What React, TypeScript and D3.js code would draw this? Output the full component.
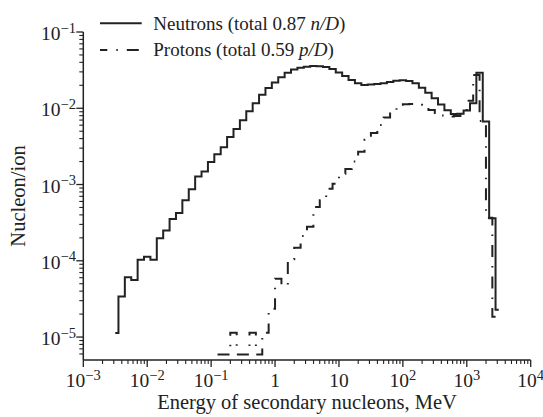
import React from 'react';
import * as d3 from 'd3';

const W = 543;
const H = 417;

// axis decades (exponents of ten)
const xDecades = [-3, -2, -1, 0, 1, 2, 3, 4];
const yDecades = [-5, -4, -3, -2, -1];

// neutron histogram: bin centres at 10^(-2.5 + 0.1 i)
const neutronFirstCentreLog = -2.5;
const binWidthLog = 0.1;
const neutronValues = [
  1.13e-5, 3.4e-5, 6.1e-5, 5.6e-5, 1.03e-4, 1.13e-4, 1.03e-4, 1.98e-4, 2.49e-4, 3.52e-4,
  4.22e-4, 6.24e-4, 8.64e-4, 1.27e-3, 1.48e-3, 1.98e-3, 2.5e-3, 3.07e-3, 4.21e-3, 5.33e-3,
  6.97e-3, 9.14e-3, 1.16e-2, 1.5e-2, 1.85e-2, 2.18e-2, 2.56e-2, 2.92e-2, 3.23e-2, 3.41e-2,
  3.51e-2, 3.59e-2, 3.56e-2, 3.48e-2, 3.28e-2, 2.95e-2, 2.65e-2, 2.35e-2, 2.13e-2, 2.02e-2,
  2.05e-2, 2.08e-2, 2.13e-2, 2.21e-2, 2.3e-2, 2.33e-2, 2.28e-2, 2.12e-2, 1.86e-2, 1.6e-2,
  1.35e-2, 1.12e-2, 9.42e-3, 8.43e-3, 8.47e-3, 9.37e-3, 1.16e-2, 2.93e-2, 6.68e-3, 3.62e-4,
  2.28e-5,
];

// proton histogram: bin lower edges at 10^(-0.9 + 0.1 i)
const protonFirstEdgeLog = -0.9;
const protonValues = [
  5.9e-6, 5.9e-6, 1.14e-5, 5.9e-6, 5.9e-6, 1.14e-5, 5.9e-6, 1.14e-5, 2.35e-5,
  5.81e-5, 4.7e-5, 1.05e-4, 1.48e-4, 2.12e-4, 2.79e-4, 5.09e-4, 6.2e-4, 8.77e-4, 1.02e-3,
  1.38e-3, 1.6e-3, 2.0e-3, 2.68e-3, 3.85e-3, 4.75e-3, 6.05e-3, 7.59e-3, 8.95e-3, 1.07e-2,
  1.13e-2, 1.14e-2, 1.11e-2, 1.04e-2, 9.51e-3, 8.69e-3, 8.05e-3, 7.82e-3, 7.94e-3, 8.95e-3,
  1.25e-2, 2.73e-2, 6.82e-3, 3.66e-4, 1.85e-5,
];

const legendNames = ['Neutrons (total 0.87 ', 'Protons (total 0.59 '];
const legendUnits = ['n/D', 'p/D'];
const xTitle = 'Energy of secondary nucleons, MeV';
const yTitle = 'Nucleon/ion';

const FONT = "'Liberation Serif', 'Times New Roman', Times, serif";

function expLabel(e: number, sfs: number) {
  if (e === 0) return <>1</>;
  if (e === 1) return <>10</>;
  const s = e < 0 ? '\u2212' + Math.abs(e) : String(e);
  return (
    <>
      10
      <tspan dy={-7.5} fontSize={sfs}>{s}</tspan>
    </>
  );
}

export default function App() {
  const x = d3.scaleLog().domain([1e-3, 1e4]).range([83.3, 530.7]);
  const y = d3.scaleLog().domain([5e-6, 1e-1]).range([360, 32]);

  const neutronPts = neutronValues.map((v, i) => ({
    e: Math.pow(10, neutronFirstCentreLog + binWidthLog * i),
    v,
  }));
  const protonPts = protonValues.map((v, i) => ({
    e: Math.pow(10, protonFirstEdgeLog + binWidthLog * i),
    v,
  }));
  protonPts.push({
    e: Math.pow(10, protonFirstEdgeLog + binWidthLog * protonValues.length),
    v: protonValues[protonValues.length - 1],
  });

  const nLine = d3
    .line<{ e: number; v: number }>()
    .x((d) => x(d.e))
    .y((d) => y(d.v))
    .curve(d3.curveStep);
  const pLine = d3
    .line<{ e: number; v: number }>()
    .x((d) => x(d.e))
    .y((d) => y(d.v))
    .curve(d3.curveStepAfter);

  const xMinor: number[] = [];
  for (let d = -3; d < 4; d++) for (let m = 2; m <= 9; m++) xMinor.push(m * Math.pow(10, d));
  const yMinor: number[] = [];
  for (let d = -6; d < -1; d++)
    for (let m = 2; m <= 9; m++) {
      const v = m * Math.pow(10, d);
      if (v >= 5e-6 && v < 1e-1) yMinor.push(v);
    }

  const x0 = x.range()[0];
  const yBase = y.range()[0];
  const tickFs = 19.5;
  const supFs = 14.5;
  const dash = '12,9,1.5,9';

  return (
    <svg
      width={W}
      height={H}
      style={{ position: 'absolute', left: 0, top: 0, background: '#fff' }}
      fontFamily={FONT}
    >
      <rect width={W} height={H} fill="#fff" />
      {/* axes */}
      <line x1={x0} x2={x.range()[1]} y1={yBase} y2={yBase} stroke="#222" strokeWidth={1.5} />
      <line x1={x0} x2={x0} y1={y.range()[1]} y2={yBase} stroke="#222" strokeWidth={1.5} />
      {xDecades.map((d) => (
        <line key={'xM' + d} x1={x(Math.pow(10, d))} x2={x(Math.pow(10, d))} y1={yBase} y2={yBase + 7} stroke="#222" strokeWidth={1.3} />
      ))}
      {xMinor.map((v, i) => (
        <line key={'xm' + i} x1={x(v)} x2={x(v)} y1={yBase} y2={yBase + 4} stroke="#222" strokeWidth={1.1} />
      ))}
      {yDecades.map((d) => (
        <line key={'yM' + d} x1={x0 - 7} x2={x0} y1={y(Math.pow(10, d))} y2={y(Math.pow(10, d))} stroke="#222" strokeWidth={1.3} />
      ))}
      {yMinor.map((v, i) => (
        <line key={'ym' + i} x1={x0 - 4} x2={x0} y1={y(v)} y2={y(v)} stroke="#222" strokeWidth={1.1} />
      ))}
      {/* tick labels */}
      {xDecades.map((d) => (
        <text key={'xl' + d} x={x(Math.pow(10, d))} y={387} textAnchor="middle" fontSize={tickFs} fill="#222">
          {expLabel(d, supFs)}
        </text>
      ))}
      {yDecades.map((d) => (
        <text key={'yl' + d} x={76} y={y(Math.pow(10, d)) + 8} textAnchor="end" fontSize={tickFs} fill="#222">
          {expLabel(d, supFs)}
        </text>
      ))}
      {/* titles */}
      <text x={(x.range()[0] + x.range()[1]) / 2} y={409} textAnchor="middle" fontSize={20.5} fill="#222">
        {xTitle}
      </text>
      <text
        transform={`translate(25,${(y.range()[0] + y.range()[1]) / 2}) rotate(-90)`}
        textAnchor="middle"
        fontSize={20.5}
        fill="#222"
      >
        {yTitle}
      </text>
      {/* data */}
      <path d={pLine(protonPts) || ''} fill="none" stroke="#222" strokeWidth={2} strokeDasharray={dash} />
      <path d={nLine(neutronPts) || ''} fill="none" stroke="#222" strokeWidth={2} />
      {/* legend */}
      <line x1={100} x2={141.7} y1={23.3} y2={23.3} stroke="#222" strokeWidth={2} />
      <line x1={100} x2={141.7} y1={50} y2={50} stroke="#222" strokeWidth={2} strokeDasharray={dash} strokeDashoffset={4.7} />
      {legendNames.map((name, i) => (
        <text key={'lg' + i} x={153.3} y={29.5 + i * 26.7} fontSize={19} fill="#222">
          {name}
          <tspan fontStyle="italic">{legendUnits[i]}</tspan>)
        </text>
      ))}
    </svg>
  );
}
